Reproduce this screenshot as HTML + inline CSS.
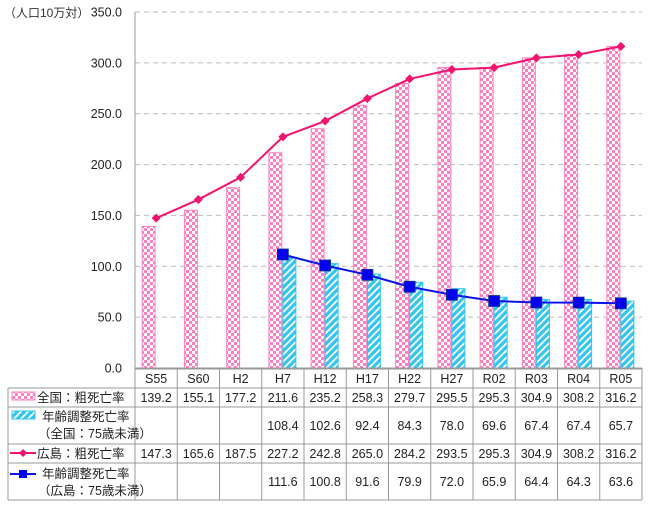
<!DOCTYPE html>
<html><head><meta charset="utf-8"><style>
html,body{margin:0;padding:0;background:#fff;}
svg{display:block;font-family:"Liberation Sans","Noto Sans CJK JP",sans-serif;}
</style></head><body>
<svg id="s" width="650" height="506" viewBox="0 0 650 506" xmlns="http://www.w3.org/2000/svg">
<defs>
<pattern id="chk" width="6" height="6" patternUnits="userSpaceOnUse">
<rect width="6" height="6" fill="#fff"/><rect width="3" height="3" fill="#ff80c0"/><rect x="3" y="3" width="3" height="3" fill="#ff80c0"/>
</pattern>
<pattern id="str" width="5" height="5" patternUnits="userSpaceOnUse" patternTransform="rotate(45)">
<rect width="5" height="5" fill="#33c4f0"/><rect width="1.8" height="5" fill="#fff"/>
</pattern>
</defs>
<g id="g"></g>
</svg>
<script>
var g=document.getElementById('g'),h='';
var L=135,R=642,Y0=368,k=356/350,cw=(R-L)/12;
var cats=['S55','S60','H2','H7','H12','H17','H22','H27','R02','R03','R04','R05'];
var a=[139.2,155.1,177.2,211.6,235.2,258.3,279.7,295.5,295.3,304.9,308.2,316.2];
var b=[null,null,null,108.4,102.6,92.4,84.3,78.0,69.6,67.4,67.4,65.7];
var c=[147.3,165.6,187.5,227.2,242.8,265.0,284.2,293.5,295.3,304.9,308.2,316.2];
var d=[null,null,null,111.6,100.8,91.6,79.9,72.0,65.9,64.4,64.3,63.6];
function y(v){return Y0-v*k;}
h+='<text x="4" y="17" font-size="12" fill="#333">（人口10万対）</text>';
for(var i=0;i<=7;i++){var yy=y(i*50);
 if(i>0)h+='<line x1="'+L+'" x2="'+R+'" y1="'+yy+'" y2="'+yy+'" stroke="#bbb" stroke-dasharray="5,4"/>';
 h+='<text x="122" y="'+(yy+4.5)+'" font-size="12.5" text-anchor="end" fill="#222">'+(i*50).toFixed(1)+'</text>';}
for(var i=0;i<12;i++){var cx=L+cw*(i+0.5);
 h+='<rect x="'+(cx-14)+'" y="'+y(a[i])+'" width="13" height="'+(a[i]*k)+'" fill="url(#chk)" stroke="#ff80c0" stroke-width="1"/>';
 if(b[i])h+='<rect x="'+(cx)+'" y="'+y(b[i])+'" width="13" height="'+(b[i]*k)+'" fill="url(#str)" stroke="#33c4f0" stroke-width="1"/>';}
var p1='',p2='';
for(var i=0;i<12;i++){var cx=L+cw*(i+0.5);p1+=(i?'L':'M')+cx+' '+y(c[i]);if(d[i])p2+=(i==3?'M':'L')+cx+' '+y(d[i]);}
h+='<path d="'+p1+'" fill="none" stroke="#f0146e" stroke-width="2"/>';
h+='<path d="'+p2+'" fill="none" stroke="#0a14e6" stroke-width="2"/>';
for(var i=0;i<12;i++){var cx=L+cw*(i+0.5),yy=y(c[i]);
 h+='<path d="M'+cx+' '+(yy-4.5)+'L'+(cx+4.5)+' '+yy+'L'+cx+' '+(yy+4.5)+'L'+(cx-4.5)+' '+yy+'Z" fill="#f0146e"/>';
 if(d[i]){yy=y(d[i]);h+='<rect x="'+(cx-5.5)+'" y="'+(yy-5.5)+'" width="11" height="11" fill="#0000ee" stroke="#0a3c8c" stroke-width="0.8"/>';}}
var rows=[369,388,407,444,463,500];
h+='<g stroke="#999" stroke-width="1" fill="none">';
h+='<line x1="'+L+'" x2="'+L+'" y1="12" y2="500"/>';
h+='<line x1="'+L+'" x2="'+R+'" y1="368" y2="368"/>';
for(var r=0;r<rows.length;r++){h+='<line x1="'+(r==0?L:8)+'" x2="'+R+'" y1="'+rows[r]+'" y2="'+rows[r]+'"/>';}
h+='<line x1="8" x2="8" y1="388" y2="500"/>';
for(var i=1;i<=12;i++){var xx=L+cw*i;h+='<line x1="'+xx+'" x2="'+xx+'" y1="368" y2="500"/>';}
h+='</g>';
function row(arr,yt){for(var i=0;i<12;i++)if(arr[i]!=null)h+='<text x="'+(L+cw*(i+0.5))+'" y="'+yt+'" font-size="12.5" text-anchor="middle" fill="#222">'+arr[i].toFixed(1)+'</text>';}
for(var i=0;i<12;i++)h+='<text x="'+(L+cw*(i+0.5))+'" y="383" font-size="12.5" text-anchor="middle" fill="#222">'+cats[i]+'</text>';
row(a,402);row(b,430);row(c,458);row(d,486);
h+='<rect x="12" y="392" width="23" height="8" fill="url(#chk)" stroke="#ff80c0"/>';
h+='<text x="37" y="402" font-size="12.5" fill="#222">全国：粗死亡率</text>';
h+='<rect x="12" y="411" width="23" height="8" fill="url(#str)" stroke="#33c4f0"/>';
h+='<text x="42" y="421" font-size="12.5" fill="#222">年齢調整死亡率</text>';
h+='<text x="38" y="438" font-size="12.5" fill="#222">（全国：75歳未満）</text>';
h+='<line x1="10" x2="36" y1="453" y2="453" stroke="#f0146e" stroke-width="2"/><path d="M23 449L27 453L23 457L19 453Z" fill="#f0146e"/>';
h+='<text x="37" y="458" font-size="12.5" fill="#222">広島：粗死亡率</text>';
h+='<line x1="10" x2="36" y1="474" y2="474" stroke="#0a14e6" stroke-width="2"/><rect x="19" y="470" width="8" height="8" fill="#0000ee"/>';
h+='<text x="42" y="478" font-size="12.5" fill="#222">年齢調整死亡率</text>';
h+='<text x="38" y="495" font-size="12.5" fill="#222">（広島：75歳未満）</text>';
g.innerHTML=h;
</script>
</body></html>
